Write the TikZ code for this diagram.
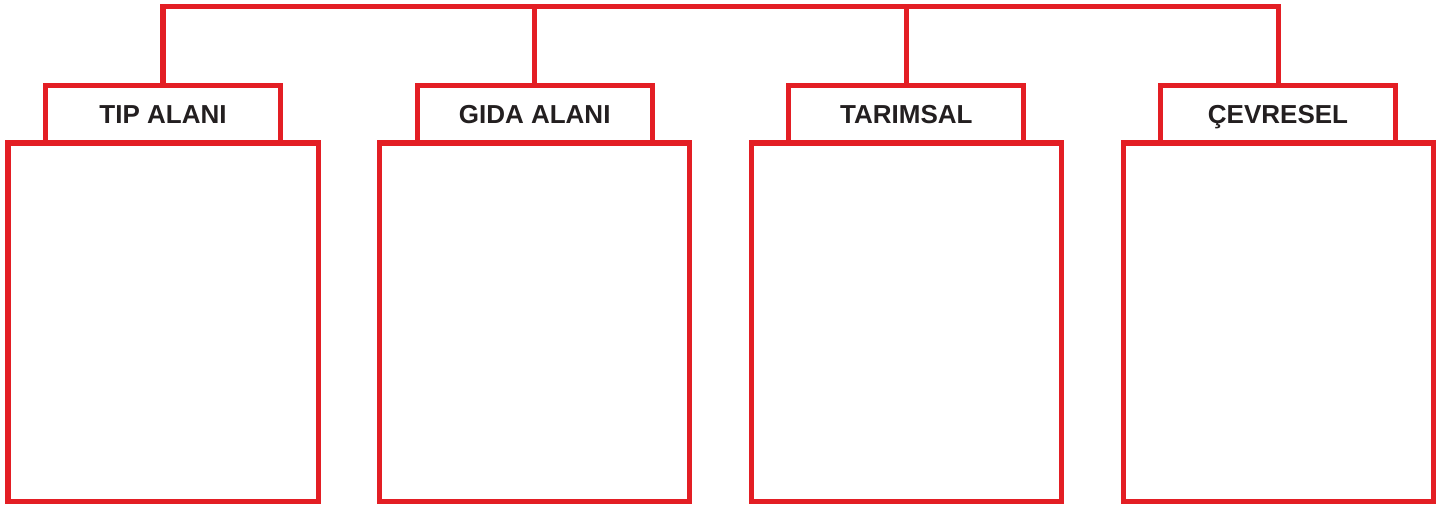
\documentclass[tikz,border=0pt]{standalone}
\usepackage{fontspec}
\setmainfont{Liberation Sans}
\usetikzlibrary{positioning}
\definecolor{FrameRed}{RGB}{227,30,36}
\definecolor{InkGray}{RGB}{35,31,32}
\tikzset{
  bigbox/.style={draw=FrameRed,line width=2.85pt,minimum width=6.2cm,
    minimum height=7.17cm,outer sep=0pt,anchor=north},
  labelbox/.style={draw=FrameRed,line width=2.85pt,fill=white,minimum width=4.7cm,
    minimum height=1.14cm,outer sep=0pt,text=InkGray,
    font=\bfseries\fontsize{14.8}{17}\selectfont,text height=10.6pt,text depth=0pt},
  link/.style={FrameRed,line width=2.85pt}
}
\begin{document}
\begin{tikzpicture}[node distance=0pt]
  \useasboundingbox (0,0) rectangle (29.02,10.16);
  % empty boxes
  \node[bigbox] (box1) at (3.26,7.3) {};
  \node[bigbox] (box2) at (10.693,7.3) {};
  \node[bigbox] (box3) at (18.127,7.3) {};
  \node[bigbox] (box4) at (25.56,7.3) {};

  % titles sitting on the boxes
  \node[labelbox,above=of box1] (lbl1) {TIP ALANI};
  \node[labelbox,above=of box2] (lbl2) {GIDA ALANI};
  \node[labelbox,above=of box3] (lbl3) {TARIMSAL};
  \node[labelbox,above=of box4] (lbl4) {ÇEVRESEL};

  % joining bar on top
  \coordinate (bar) at (0,10.03);
  \draw[link] (lbl1.north) -- (lbl1.north |- bar) -- (lbl4.north |- bar) -- (lbl4.north);
  \draw[link] (lbl2.north) -- (lbl2.north |- bar);
  \draw[link] (lbl3.north) -- (lbl3.north |- bar);
\end{tikzpicture}
\end{document}
